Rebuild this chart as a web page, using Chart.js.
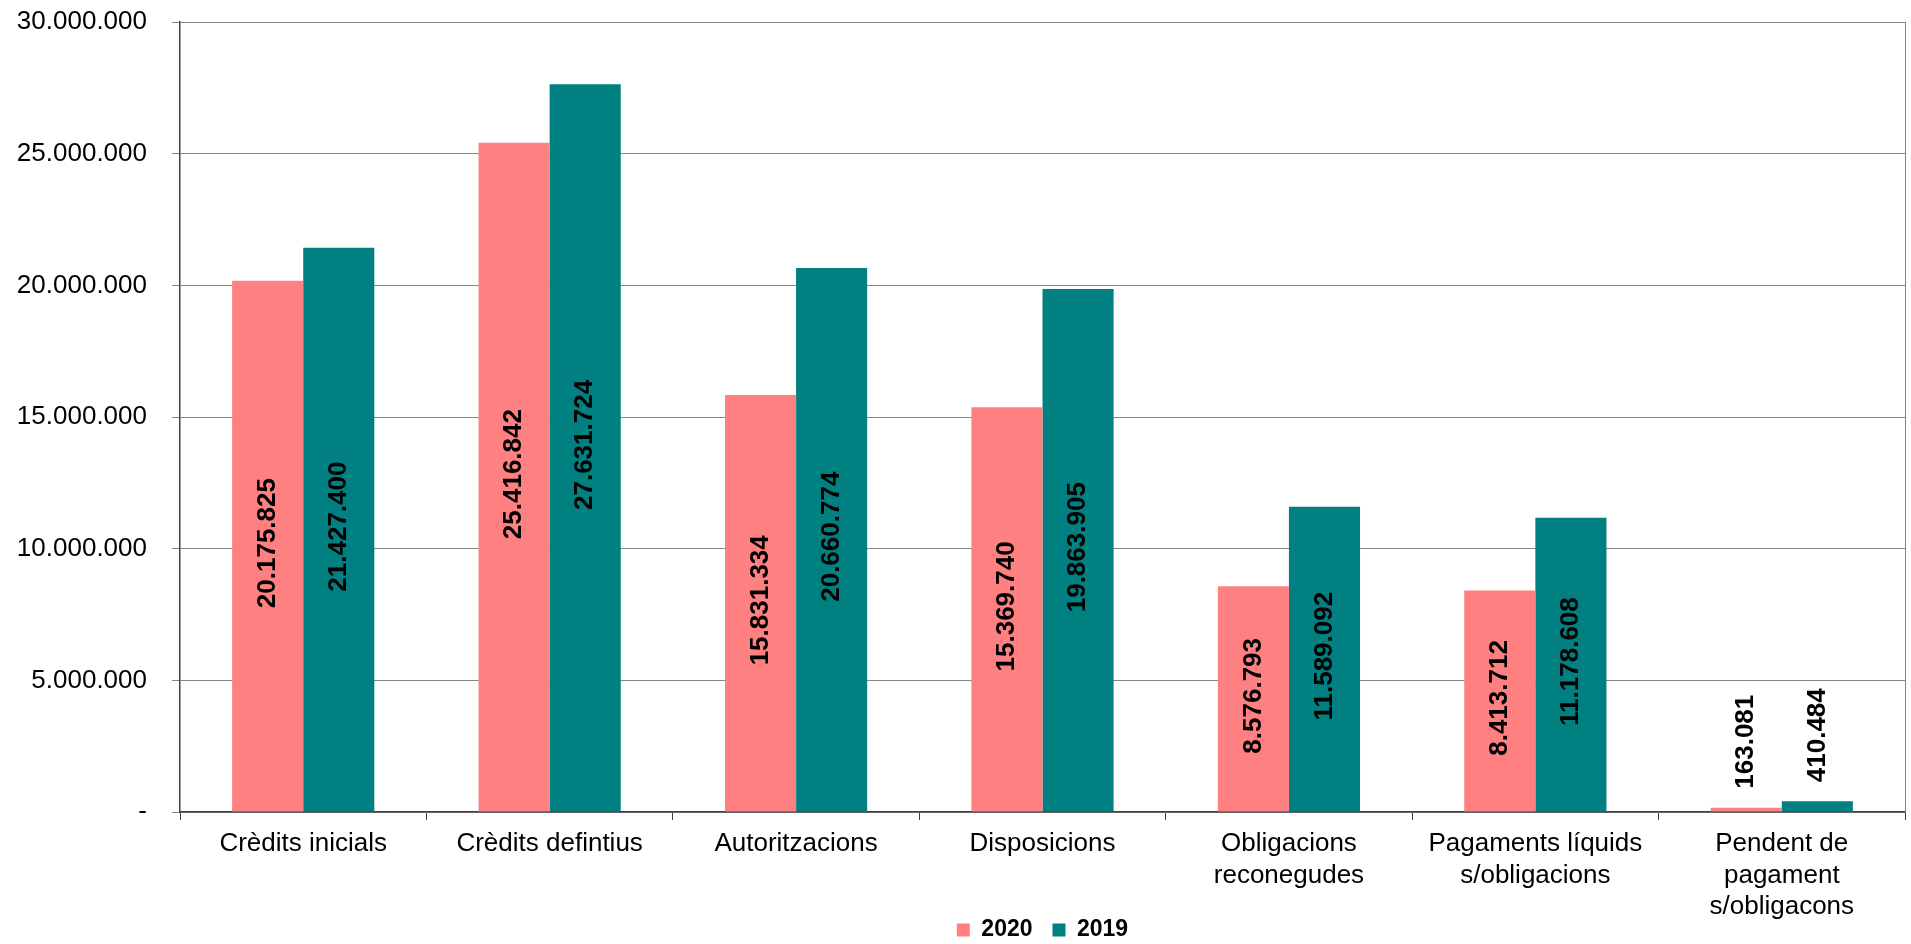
<!DOCTYPE html>
<html>
<head>
<meta charset="utf-8">
<title>Crèdits 2020 / 2019</title>
<script src="https://cdn.jsdelivr.net/npm/chart.js@4.4.1/dist/chart.umd.min.js"></script>
<style>
  html, body { margin: 0; padding: 0; background: #ffffff; }
  #wrap { width: 1911px; height: 944px; position: relative; }
</style>
</head>
<body>
<div id="wrap"><canvas id="chart"></canvas></div>
<script>
// Categories (multi-line labels as in the original)
const categories = [
  'Crèdits inicials',
  'Crèdits defintius',
  'Autoritzacions',
  'Disposicions',
  ['Obligacions', 'reconegudes'],
  ['Pagaments líquids', 's/obligacions'],
  ['Pendent de', 'pagament', 's/obligacons'],
];

const values2020 = [20175825, 25416842, 15831334, 15369740, 8576793, 8413712, 163081];
const values2019 = [21427400, 27631724, 20660774, 19863905, 11589092, 11178608, 410484];

const yMax = 30000000;
const yStep = 5000000;

const FONT = '"Liberation Sans", Arial, sans-serif';

// 1234567 -> 1.234.567
const fmt = (v) => String(Math.round(v)).replace(/\B(?=(\d{3})+(?!\d))/g, '.');

// Rotated value labels, centered in the bar or above it when the bar is too short
const barLabels = {
  id: 'barLabels',
  afterDatasetsDraw(chart) {
    const { ctx } = chart;
    ctx.save();
    ctx.font = `bold 26px ${FONT}`;
    ctx.fillStyle = '#000000';
    ctx.textBaseline = 'middle';
    chart.data.datasets.forEach((ds, di) => {
      const meta = chart.getDatasetMeta(di);
      meta.data.forEach((bar, i) => {
        const text = fmt(ds.data[i]);
        const w = ctx.measureText(text).width;
        const h = bar.base - bar.y;
        ctx.save();
        if (h > w + 20) {
          ctx.translate(bar.x, (bar.y + bar.base) / 2 - 3);
          ctx.rotate(-Math.PI / 2);
          ctx.textAlign = 'center';
        } else {
          ctx.translate(bar.x, bar.y - 19);
          ctx.rotate(-Math.PI / 2);
          ctx.textAlign = 'left';
        }
        ctx.fillText(text, 0, 0);
        ctx.restore();
      });
    });
    ctx.restore();
  },
};

// Right border of the plot area
const plotBorder = {
  id: 'plotBorder',
  afterDraw(chart) {
    const { ctx, chartArea } = chart;
    ctx.save();
    ctx.strokeStyle = '#868686';
    ctx.lineWidth = 1;
    ctx.beginPath();
    ctx.moveTo(Math.round(chartArea.right) + 0.5, chartArea.top);
    ctx.lineTo(Math.round(chartArea.right) + 0.5, chartArea.bottom);
    ctx.stroke();
    ctx.restore();
  },
};

// Legend sits slightly into the axis-label band, like the original
const legendNudge = {
  id: 'legendNudge',
  afterLayout(chart) {
    const lg = chart.legend;
    if (!lg) return;
    const pad = lg.options.labels.padding;
    lg.top = chart.chartArea.bottom + 118 - pad - 11.5;
    lg.bottom = chart.height;
    lg.height = lg.bottom - lg.top;
  },
};

new Chart(document.getElementById('chart'), {
  type: 'bar',
  data: {
    labels: categories,
    datasets: [
      {
        label: '2020',
        data: values2020,
        backgroundColor: '#FF8080',
        borderWidth: 0,
        categoryPercentage: 0.577,
        barPercentage: 1,
      },
      {
        label: '2019',
        data: values2019,
        backgroundColor: '#008080',
        borderWidth: 0,
        categoryPercentage: 0.577,
        barPercentage: 1,
      },
    ],
  },
  options: {
    responsive: true,
    maintainAspectRatio: false,
    animation: false,
    devicePixelRatio: 1,
    layout: { padding: { top: 22, right: 6, left: 0, bottom: 0 } },
    plugins: {
      legend: {
        position: 'bottom',
        fullSize: false,
        maxHeight: 24,
        labels: {
          boxWidth: 13,
          boxHeight: 13,
          padding: 20,
          color: '#000000',
          font: { family: FONT, size: 23, weight: 'bold', lineHeight: 1 },
        },
      },
      tooltip: { enabled: false },
    },
    scales: {
      x: {
        grid: {
          offset: true,
          drawOnChartArea: false,
          drawTicks: true,
          tickLength: 8,
          color: '#404040',
        },
        border: { color: '#404040', width: 1.5 },
        ticks: {
          color: '#000000',
          padding: 8,
          maxRotation: 0,
          autoSkip: false,
          font: { family: FONT, size: 26, lineHeight: 1.22 },
        },
        afterFit: (scale) => { scale.height = 108; },
      },
      y: {
        min: 0,
        max: yMax,
        grid: {
          color: '#868686',
          lineWidth: 1,
          tickLength: 8,
        },
        border: { color: '#404040', width: 1.5 },
        ticks: {
          stepSize: yStep,
          color: '#000000',
          padding: 25,
          font: { family: FONT, size: 26 },
          callback: (v) => (v === 0 ? '-' : fmt(v)),
        },
        afterFit: (scale) => {
          scale.width = 180;
          scale.paddingTop = 16;
          scale.paddingBottom = 16;
        },
      },
    },
  },
  plugins: [barLabels, plotBorder, legendNudge],
});
</script>
</body>
</html>
